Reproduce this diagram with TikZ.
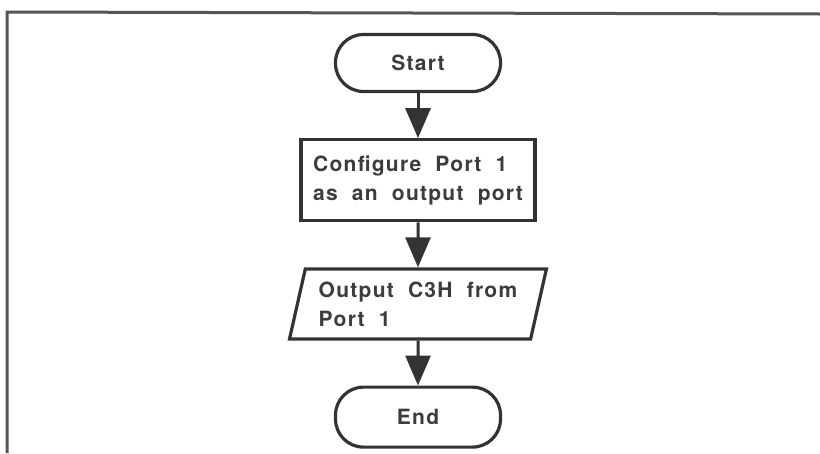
\documentclass[tikz,border=0pt]{standalone}
\usepackage{fontspec}
\setsansfont[LetterSpace=6,WordSpace=2]{TeX Gyre Heros}
\usepackage{tikz}
\usetikzlibrary{positioning,arrows.meta,shapes.geometric}
\definecolor{ink}{HTML}{333333}
\definecolor{textgray}{HTML}{3C3C3C}
\definecolor{framegray}{HTML}{555555}
\tikzset{
  chart/.style={draw=ink,line width=3.2pt,fill=white,text=textgray,font=\sffamily\bfseries\fontsize{21}{29}\selectfont},
  pill/.style={chart,rounded corners=28pt,minimum width=165pt,minimum height=57pt},
  process/.style={chart,align=left,minimum width=234pt,minimum height=81pt},
  io/.style={chart,trapezium,trapezium left angle=74,trapezium right angle=106,trapezium stretches=true,align=left,minimum width=257pt,minimum height=70pt,inner xsep=6pt},
  flow/.style={draw=ink,line width=3pt,-{Triangle[length=30pt,width=25pt]}},
  frameline/.style={draw=framegray,line width=3pt}
}
\begin{document}
\begin{tikzpicture}[x=1pt,y=-1pt,node distance=45pt]
  \useasboundingbox (0,0) rectangle (820,453);
  \draw[frameline] (7,453) -- (7,12) -- (820,14);
  \node[pill] (start) at (418,63) {Start};
  \node[process,below=of start] (config) {Configure Port 1\\as an output port};
  \node[io,below=of config] (output) {Output C3H from\\Port 1};
  \node[pill,below=of output,minimum height=60pt] (end) {End};
  \draw[flow] (start) -- (config);
  \draw[flow] (config) -- (output);
  \draw[flow] (output) -- (end);
\end{tikzpicture}
\end{document}
